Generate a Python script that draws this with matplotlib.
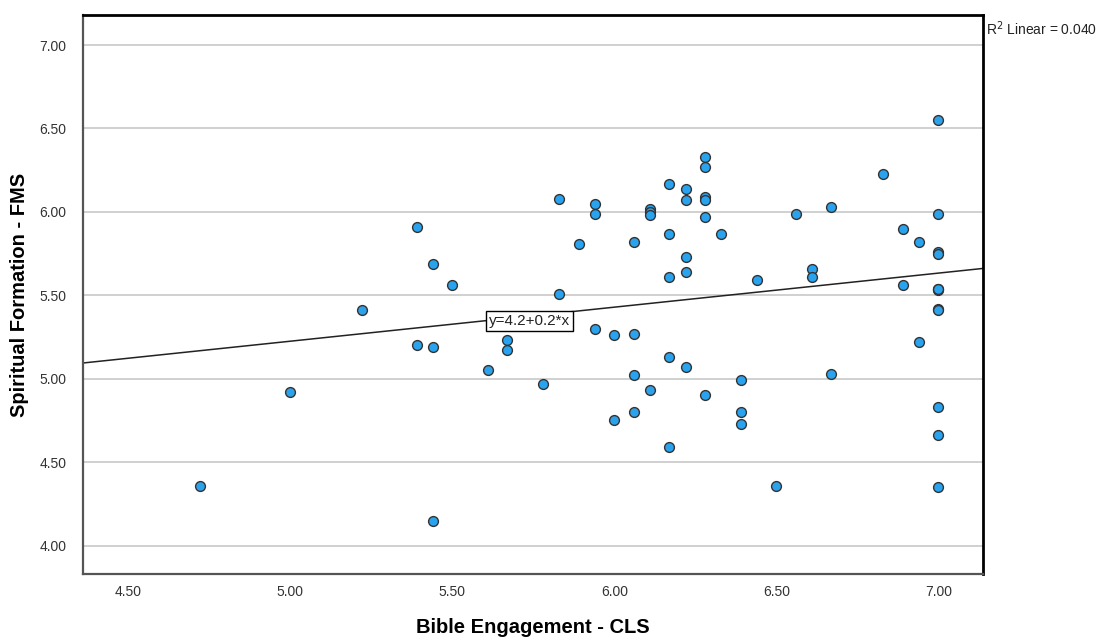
import numpy as np
import matplotlib
matplotlib.use("Agg")
import matplotlib.pyplot as plt

plt.rcParams['font.family'] = ['Liberation Sans', 'DejaVu Sans']

# Bible Engagement (CLS) scores
cls = [4.72, 5.00, 5.22, 5.39, 5.39, 5.44, 5.44, 5.44, 5.50, 5.61,
       5.67, 5.67, 5.78, 5.83, 5.83, 5.89, 5.94, 5.94, 5.94, 6.00,
       6.00, 6.06, 6.06, 6.06, 6.06, 6.11, 6.11, 6.11, 6.11, 6.17,
       6.17, 6.17, 6.17, 6.17, 6.22, 6.22, 6.22, 6.22, 6.22, 6.28,
       6.28, 6.28, 6.28, 6.28, 6.28, 6.33, 6.39, 6.39, 6.39, 6.44,
       6.50, 6.56, 6.61, 6.61, 6.67, 6.67, 6.83, 6.89, 6.89, 6.94,
       6.94, 7.00, 7.00, 7.00, 7.00, 7.00, 7.00, 7.00, 7.00, 7.00,
       7.00, 7.00, 7.00]

# Spiritual Formation (FMS) scores
fms = [4.36, 4.92, 5.41, 5.91, 5.20, 5.69, 5.19, 4.15, 5.56, 5.05,
       5.23, 5.17, 4.97, 6.08, 5.51, 5.81, 6.05, 5.99, 5.30, 5.26,
       4.75, 5.82, 5.27, 5.02, 4.80, 6.02, 6.00, 5.98, 4.93, 6.17,
       5.87, 5.61, 5.13, 4.59, 6.14, 6.07, 5.73, 5.64, 5.07, 6.33,
       6.27, 6.09, 6.07, 5.97, 4.90, 5.87, 4.99, 4.80, 4.73, 5.59,
       4.36, 5.99, 5.66, 5.61, 6.03, 5.03, 6.23, 5.90, 5.56, 5.82,
       5.22, 6.55, 5.99, 5.76, 5.75, 5.54, 5.53, 5.42, 5.41, 4.83,
       4.66, 4.35, 5.54]

x_ticks = [4.50, 5.00, 5.50, 6.00, 6.50, 7.00]
y_ticks = [4.00, 4.50, 5.00, 5.50, 6.00, 6.50, 7.00]

# fit line coefficients (y = a + b*x)
fit_a = 4.205
fit_b = 0.204
fit_label = "y=4.2+0.2*x"
r2_label = "R$^2$ Linear = 0.040"

fig = plt.figure(figsize=(10.96, 6.37), dpi=100)
ax = fig.add_axes([0.0757, 0.0989, 0.8212, 0.8776])

x_min, x_max = 4.36, 7.138
y_min, y_max = 3.83, 7.18
ax.set_xlim(x_min, x_max)
ax.set_ylim(y_min, y_max)

ax.set_xticks(x_ticks)
ax.set_xticklabels([f"{v:.2f}" for v in x_ticks])
ax.set_yticks(y_ticks)
ax.set_yticklabels([f"{v:.2f}" for v in y_ticks])
ax.tick_params(length=0, labelsize=10, colors='#333333', pad=8)
ax.tick_params(axis='y', pad=12)

ax.yaxis.grid(True, color='#c8c8c8', linewidth=1.2)
ax.set_axisbelow(True)

for side in ['top', 'right']:
    ax.spines[side].set_color('black')
    ax.spines[side].set_linewidth(2)
for side in ['left', 'bottom']:
    ax.spines[side].set_color('#555555')
    ax.spines[side].set_linewidth(1.6)

# regression line across the full axis range
lx = np.array([x_min, x_max])
ax.plot(lx, fit_a + fit_b * lx, color='#222222', linewidth=1.1, zorder=2)

ax.scatter(cls, fms, s=50, facecolor='#2aa3ef', edgecolor='#333333',
           linewidth=1.0, zorder=3)

ax.text(5.614, 5.346, fit_label, fontsize=11, va='center', ha='left',
        color='#222222', zorder=4,
        bbox=dict(boxstyle='square,pad=0.2', facecolor='white',
                  edgecolor='black', linewidth=1))

fig.text(0.8995, 0.9545, r2_label, fontsize=10, va='center', ha='left',
         color='#222222')

fig.text(0.4863, 0.0155, "Bible Engagement - CLS", fontsize=14.5,
         fontweight='bold', va='center', ha='center')
fig.text(0.0175, 0.5375, "Spiritual Formation - FMS", fontsize=14.5,
         fontweight='bold', rotation=90, va='center', ha='center')

fig.savefig("out.png", dpi=100)
